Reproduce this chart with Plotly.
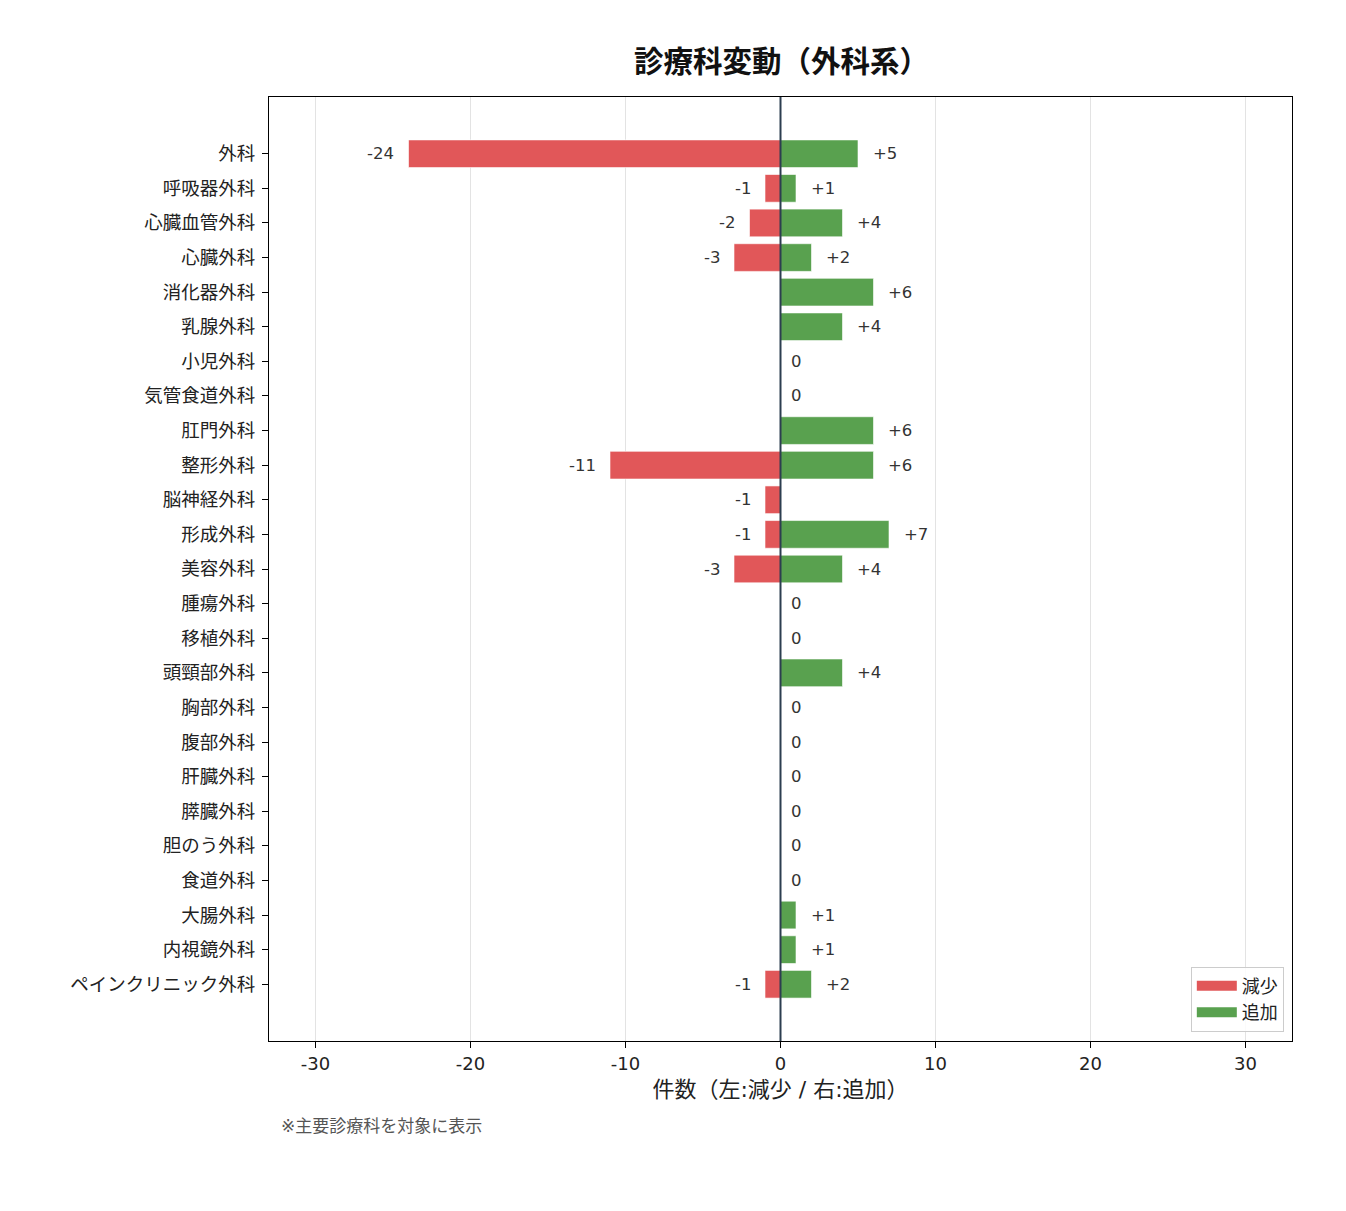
import plotly.graph_objects as go

# 診療科ごとの減少・追加件数
departments = [
    '外科', '呼吸器外科', '心臓血管外科', '心臓外科', '消化器外科', '乳腺外科',
    '小児外科', '気管食道外科', '肛門外科', '整形外科', '脳神経外科', '形成外科',
    '美容外科', '腫瘍外科', '移植外科', '頭頸部外科', '胸部外科', '腹部外科',
    '肝臓外科', '膵臓外科', '胆のう外科', '食道外科', '大腸外科', '内視鏡外科',
    'ペインクリニック外科',
]
decrease = [-24, -1, -2, -3, 0, 0, 0, 0, 0, -11, -1, -1, -3, 0, 0, 0, 0, 0, 0, 0, 0, 0, 0, 0, -1]
increase = [5, 1, 4, 2, 6, 4, 0, 0, 6, 6, 0, 7, 4, 0, 0, 4, 0, 0, 0, 0, 0, 0, 1, 1, 2]
x_ticks = [-30, -20, -10, 0, 10, 20, 30]

RED = '#e15759'
GREEN = '#59a14f'
FONT = 'DejaVu Sans, Noto Sans CJK JP, sans-serif'

fig = go.Figure()
fig.add_trace(go.Bar(
    y=departments, x=[v if v != 0 else None for v in decrease], orientation='h',
    name='減少', marker=dict(color=RED, line=dict(color='white', width=0.6)), width=0.8,
    showlegend=False,
))
fig.add_trace(go.Bar(
    y=departments, x=[v if v != 0 else None for v in increase], orientation='h',
    name='追加', marker=dict(color=GREEN, line=dict(color='white', width=0.6)), width=0.8,
    showlegend=False,
))
# 凡例用（横長の帯を出すため）
for name, color in [('減少', RED), ('追加', GREEN)]:
    fig.add_trace(go.Scatter(x=[None], y=[None], mode='lines', name=name,
                             line=dict(color=color, width=11)))

# 値ラベル
labels = []
for dept, d, a in zip(departments, decrease, increase):
    if d < 0:
        labels.append(dict(x=d - 1, y=dept, text=str(d), xanchor='right', xshift=3))
    if a > 0:
        labels.append(dict(x=a + 1, y=dept, text='+%d' % a, xanchor='left', xshift=-3))
    if d == 0 and a == 0:
        labels.append(dict(x=1, y=dept, text='0', xanchor='center'))
for lab in labels:
    lab.update(showarrow=False, xref='x', yref='y', yanchor='middle',
               font=dict(size=16.5, color='#333333', family=FONT))

labels.append(dict(
    text='※主要診療科を対象に表示', xref='paper', yref='paper', x=0.01, y=-0.077,
    xanchor='left', yanchor='top', showarrow=False,
    font=dict(size=17, color='#555555', family=FONT),
))

n = len(departments)
fig.update_layout(
    width=1330, height=1195,
    margin=dict(l=261, r=46, t=89, b=162),
    paper_bgcolor='white', plot_bgcolor='white',
    barmode='overlay',
    font=dict(family=FONT, size=18, color='#222222'),
    title=dict(text='<b>診療科変動（外科系）</b>', x=0.5815, xanchor='center',
               y=0.9548, yanchor='middle', font=dict(size=29.5, color='#111111')),
    annotations=labels,
    showlegend=True,
    legend=dict(x=0.992, y=0.01, xanchor='right', yanchor='bottom',
                bgcolor='rgba(255,255,255,0.85)', bordercolor='#cccccc', borderwidth=1,
                font=dict(size=18, color='#222222'), itemwidth=40),
    shapes=[dict(type='line', xref='x', yref='paper', x0=0, x1=0, y0=0, y1=1,
                 line=dict(color='#2c3e50', width=2), layer='above')],
)
fig.update_xaxes(
    range=[-33, 33], tickvals=x_ticks, ticktext=[str(v) for v in x_ticks],
    showgrid=True, gridcolor='#e3e3e3', gridwidth=1, zeroline=False,
    showline=True, linecolor='black', linewidth=1.2, mirror=True,
    ticks='outside', ticklen=6, tickcolor='black', tickfont=dict(size=18),
    title=dict(text='件数（左:減少 / 右:追加）', font=dict(size=22), standoff=8),
)
fig.update_yaxes(
    range=[n - 1 + 1.64, -1.64], showgrid=False, zeroline=False,
    showline=True, linecolor='black', linewidth=1.2, mirror=True,
    ticks='outside', ticklen=6, tickcolor='black', tickfont=dict(size=18.5),
    ticklabelstandoff=3,
)

fig.write_html('out.html')
